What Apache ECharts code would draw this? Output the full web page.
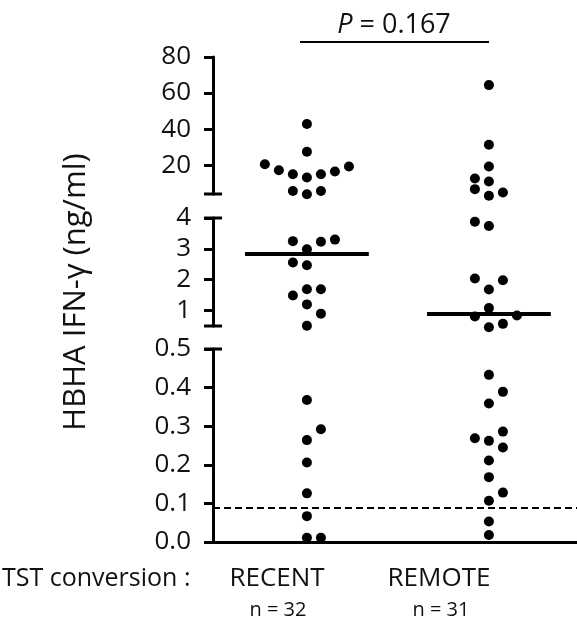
<!DOCTYPE html>
<html>
<head>
<meta charset="utf-8">
<script src="https://cdn.jsdelivr.net/npm/echarts@6/dist/echarts.min.js"></script>
<style>
  html, body { margin: 0; padding: 0; background: #fff; }
  #chart { width: 577px; height: 621px; }
</style>
</head>
<body>
<div id="chart"></div>
<script>
// groups (column 1 = RECENT, column 2 = REMOTE)
const groups = ['RECENT', 'REMOTE'];
const groupCounts = ['n = 32', 'n = 31'];

// HBHA IFN-gamma values (ng/ml), split by axis segment.
// *Slots = horizontal place of the dot inside its column (beeswarm)
const recentHigh = [42.8, 27.4, 20.5, 17.2, 15.0, 13.2, 15.0, 16.5, 19.3, 5.7, 3.9, 5.7];
const recentHighSlots = [0, 0, -3, -2, -1, 0, 1, 2, 3, -1, 0, 1];
const recentMid = [3.25, 2.99, 3.23, 3.30, 2.56, 2.47, 1.49, 1.69, 1.69, 1.20, 0.90, 0.51];
const recentMidSlots = [-1, 0, 1, 2, -1, 0, -1, 0, 1, 0, 1, 0];
const recentLow = [0.368, 0.292, 0.264, 0.206, 0.126, 0.067, 0.011, 0.011];
const recentLowSlots = [0, 1, 0, 0, 0, 0, 0, 1];

const remoteHigh = [64.4, 31.3, 19.3, 12.6, 10.9, 6.7, 3.0, 4.8];
const remoteHighSlots = [0, 0, 0, -1, 0, -1, 0, 1];
const remoteMid = [3.88, 3.74, 2.04, 1.98, 1.68, 1.08, 0.81, 0.84, 0.46, 0.57];
const remoteMidSlots = [-1, 0, -1, 1, 0, 0, -1, 2, 0, 1];
const remoteLow = [0.433, 0.389, 0.359, 0.286, 0.269, 0.262, 0.245, 0.211, 0.168, 0.128, 0.107, 0.053, 0.018];
const remoteLowSlots = [0, 1, 0, 1, -1, 0, 1, 0, 0, 1, 0, 0, 0];

const medians = [2.83, 0.90];
const cutoff = 0.093;
const pValue = '0.167';

// axis segments: [min, max] and tick labels
const highRange = [4, 80];
const midRange = [0.5, 4];
const lowRange = [0, 0.5];
const highTicks = [20, 40, 60, 80];
const midTicks = [1, 2, 3, 4];
const lowTicks = [0, 0.1, 0.2, 0.3, 0.4, 0.5];

const FONT = "'Open Sans', sans-serif";
const INK = '#111';
const SLOT = 0.077;      // dot spacing in x units
const MED_HALF = 0.34;   // half length of median bar

const grids = [
  { left: 213, width: 364, top: 57, height: 137 },
  { left: 213, width: 364, top: 218, height: 108 },
  { left: 213, width: 364, top: 349, height: 193 }
];

function xAxisFor(i) {
  return {
    type: 'value', gridIndex: i, min: 0.484, max: 2.484,
    show: i === 2,
    axisLine: { show: true, lineStyle: { color: '#000', width: 3 } },
    axisTick: { show: false }, axisLabel: { show: false }, splitLine: { show: false }
  };
}

function yAxisFor(i, range, ticks, fmt) {
  return {
    type: 'value', gridIndex: i, min: range[0], max: range[1],
    axisLine: { show: true, lineStyle: { color: '#000', width: 3 } },
    axisTick: { show: true, inside: false, length: 9, customValues: ticks,
                lineStyle: { color: '#000', width: 3 } },
    axisLabel: { show: true, customValues: ticks, margin: 22, color: INK,
                 fontSize: 26, fontFamily: FONT, formatter: fmt, padding: [6, 0, 0, 0] },
    splitLine: { show: false }
  };
}

function dots(gridIdx, col, values, slots) {
  return {
    type: 'scatter', xAxisIndex: gridIdx, yAxisIndex: gridIdx,
    symbol: 'circle', symbolSize: 10, clip: false, silent: true,
    itemStyle: { color: '#000', opacity: 1 },
    data: values.map((v, i) => [col + slots[i] * SLOT, v])
  };
}

const medianLine = (col, m) => [{ coord: [col - MED_HALF, m] }, { coord: [col + MED_HALF, m] }];

const midRecent = dots(1, 1, recentMid, recentMidSlots);
midRecent.markLine = {
  silent: true, symbol: 'none', animation: false, label: { show: false },
  lineStyle: { color: '#000', width: 4, type: 'solid', opacity: 1 },
  data: [medianLine(1, medians[0]), medianLine(2, medians[1])]
};
const lowRecent = dots(2, 1, recentLow, recentLowSlots);
lowRecent.markLine = {
  silent: true, symbol: 'none', animation: false, label: { show: false },
  lineStyle: { color: '#000', width: 2, type: [7, 4], opacity: 1 },
  data: [{ yAxis: cutoff }]
};

const option = {
  animation: false,
  grid: grids,
  xAxis: [xAxisFor(0), xAxisFor(1), xAxisFor(2)],
  yAxis: [
    yAxisFor(0, highRange, highTicks),
    yAxisFor(1, midRange, midTicks),
    yAxisFor(2, lowRange, lowTicks, v => v.toFixed(1))
  ],
  series: [
    dots(0, 1, recentHigh, recentHighSlots),
    midRecent,
    lowRecent,
    dots(0, 2, remoteHigh, remoteHighSlots),
    dots(1, 2, remoteMid, remoteMidSlots),
    dots(2, 2, remoteLow, remoteLowSlots)
  ]
};

const chart = echarts.init(document.getElementById('chart'));
chart.setOption(option);

// break caps at the ends of each axis segment
const axisX = chart.convertToPixel({ xAxisIndex: 0 }, 0.484);
const capEnds = [[0, highRange[0]], [1, midRange[1]], [1, midRange[0]], [2, lowRange[1]]];
const caps = capEnds.map(([ax, v]) => {
  const y = chart.convertToPixel({ yAxisIndex: ax }, v);
  return { type: 'line', shape: { x1: axisX - 9, y1: y, x2: axisX + 9, y2: y },
           style: { stroke: '#000', lineWidth: 3 } };
});

function label(text, x, y, size, align) {
  return { type: 'text', x: x, y: y,
           style: { text: text, fill: INK, fontSize: size, fontFamily: FONT,
                    textAlign: align || 'center', textVerticalAlign: 'middle' } };
}

const texts = [
  { type: 'text', x: 76, y: 292, rotation: Math.PI / 2,
    style: { text: 'HBHA IFN-γ (ng/ml)', fill: INK, fontSize: 31, fontFamily: FONT,
             textAlign: 'center', textVerticalAlign: 'middle' } },
  label('TST conversion :', 2, 579, 25, 'left'),
  label(groups[0], 277, 579, 26),
  label(groups[1], 439, 579, 26),
  label(groupCounts[0], 278, 610, 20),
  label(groupCounts[1], 441, 610, 20),
  { type: 'text', x: 394, y: 25,
    style: { text: '{i|P} = ' + pValue, fill: INK, fontSize: 27, fontFamily: FONT,
             textAlign: 'center', textVerticalAlign: 'middle',
             rich: { i: { fontStyle: 'italic', fontSize: 27, fontFamily: FONT, fill: INK } } } },
  { type: 'line', shape: { x1: 300, y1: 42, x2: 489, y2: 42 },
    style: { stroke: '#000', lineWidth: 2 } }
];

chart.setOption({ graphic: { elements: caps.concat(texts) } });
</script>
</body>
</html>
